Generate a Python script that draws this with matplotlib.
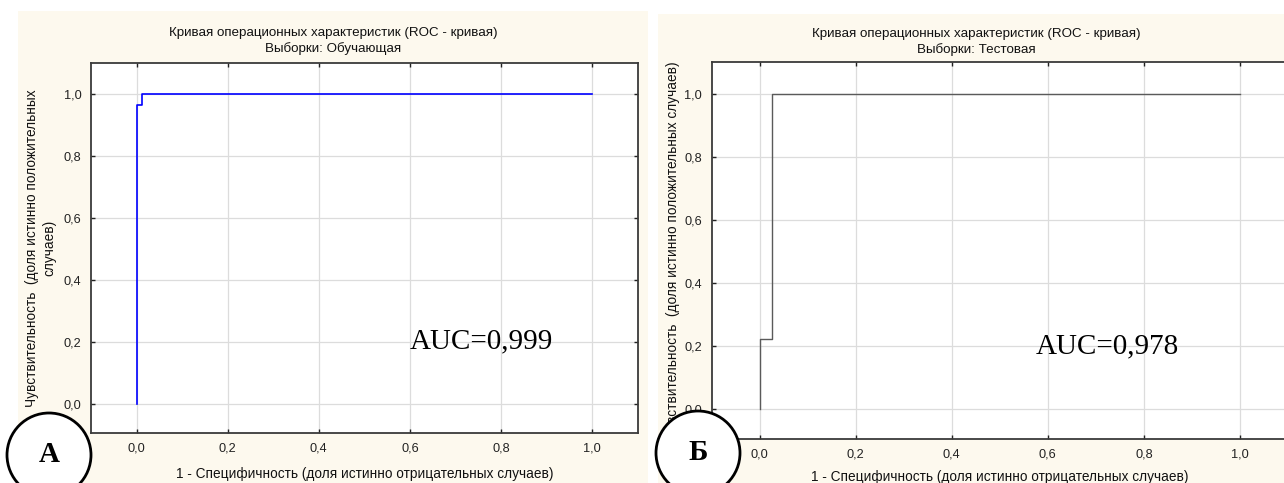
import numpy as np
import matplotlib
matplotlib.use("Agg")
import matplotlib.pyplot as plt
from matplotlib.patches import Rectangle, Ellipse

# ROC points
train_fpr = [0.0, 0.0, 0.0125, 0.0125, 1.0]
train_tpr = [0.0, 0.963, 0.963, 1.0, 1.0]
test_fpr = [0.0, 0.0, 0.026, 0.026, 1.0]
test_tpr = [0.0, 0.222, 0.222, 1.0, 1.0]

ticks = [0.0, 0.2, 0.4, 0.6, 0.8, 1.0]
tick_labels = ["0,0", "0,2", "0,4", "0,6", "0,8", "1,0"]

titles = ["Кривая операционных характеристик (ROC - кривая)\nВыборки: Обучающая",
          "Кривая операционных характеристик (ROC - кривая)\nВыборки: Тестовая"]
auc_texts = ["AUC=0,999", "AUC=0,978"]
panel_letters = ["А", "Б"]
xlabel = "1 - Специфичность (доля истинно отрицательных случаев)"
ylabels = ["Чувствительность  (доля истинно положительных\nслучаев)",
           "Чувствительность  (доля истинно положительных случаев)"]

plt.rcParams['font.family'] = ['Liberation Sans', 'DejaVu Sans']

W, H = 1284, 483
fig = plt.figure(figsize=(W / 100, H / 100), dpi=100, facecolor='white')

cream = '#FDF9EE'
# panel backgrounds (pixel boxes: x0, y0_top, x1)
for x0, y0, x1 in [(18, 11, 648), (658, 14, 1284)]:
    fig.patches.append(Rectangle((x0 / W, 0), (x1 - x0) / W, (H - y0) / H,
                                 transform=fig.transFigure, facecolor=cream,
                                 edgecolor='none', zorder=-5))

# axes boxes in pixels: left, top, right, bottom
boxes = [(91, 63, 637.7, 433), (711.5, 62, 1288, 439)]
curves = [(train_fpr, train_tpr, '#0000FF', 1.2), (test_fpr, test_tpr, '#5a5a5a', 1.0)]
auc_x = [0.6, 0.575]
ylab_pad = [5, 3]
xlab_pad = [9, 7]
title_pos = [(333, 41), (976, 42)]

for i in range(2):
    l, t, r, b = boxes[i]
    ax = fig.add_axes([l / W, (H - b) / H, (r - l) / W, (b - t) / H])
    ax.set_facecolor('white')
    fpr, tpr, col, lw = curves[i]
    ax.plot(fpr, tpr, color=col, lw=lw, zorder=3)
    ax.set_xlim(-0.1, 1.1)
    ax.set_ylim(-0.095, 1.1)
    ax.set_xticks(ticks)
    ax.set_xticklabels(tick_labels)
    ax.set_yticks(ticks)
    ax.set_yticklabels(tick_labels)
    ax.grid(True, color='#DCDCDC', lw=0.9)
    ax.set_axisbelow(True)
    ax.tick_params(direction='in', length=3, width=1, top=True, right=True,
                   labelsize=9.2, pad=7, colors='#222222')
    for s in ax.spines.values():
        s.set_color('#3a3a3a')
        s.set_linewidth(1.3)
    ax.set_xlabel(xlabel, fontsize=9.8, labelpad=xlab_pad[i], color='#111111')
    ax.set_ylabel(ylabels[i], fontsize=9.8, labelpad=ylab_pad[i], linespacing=1.3,
                  color='#111111')
    ax.text(auc_x[i], 0.2, auc_texts[i], fontsize=21, family='Liberation Serif',
            ha='left', va='center', zorder=4)
    tx, ty = title_pos[i]
    fig.text(tx / W, (H - ty) / H, titles[i], fontsize=9.6, linespacing=1.3,
             ha='center', va='center', color='#111111')

# circled panel letters
for cx, cy, letter in [(49, 455, panel_letters[0]), (698, 453, panel_letters[1])]:
    fig.patches.append(Ellipse((cx / W, (H - cy) / H), 84 / W, 84 / H,
                               transform=fig.transFigure, facecolor='white',
                               edgecolor='black', lw=2.0, zorder=10))
    fig.text(cx / W, (H - cy) / H, letter, fontsize=21, fontweight='bold',
             family='Liberation Serif', ha='center', va='center', zorder=11)

fig.savefig("out.png", dpi=100, facecolor='white')
